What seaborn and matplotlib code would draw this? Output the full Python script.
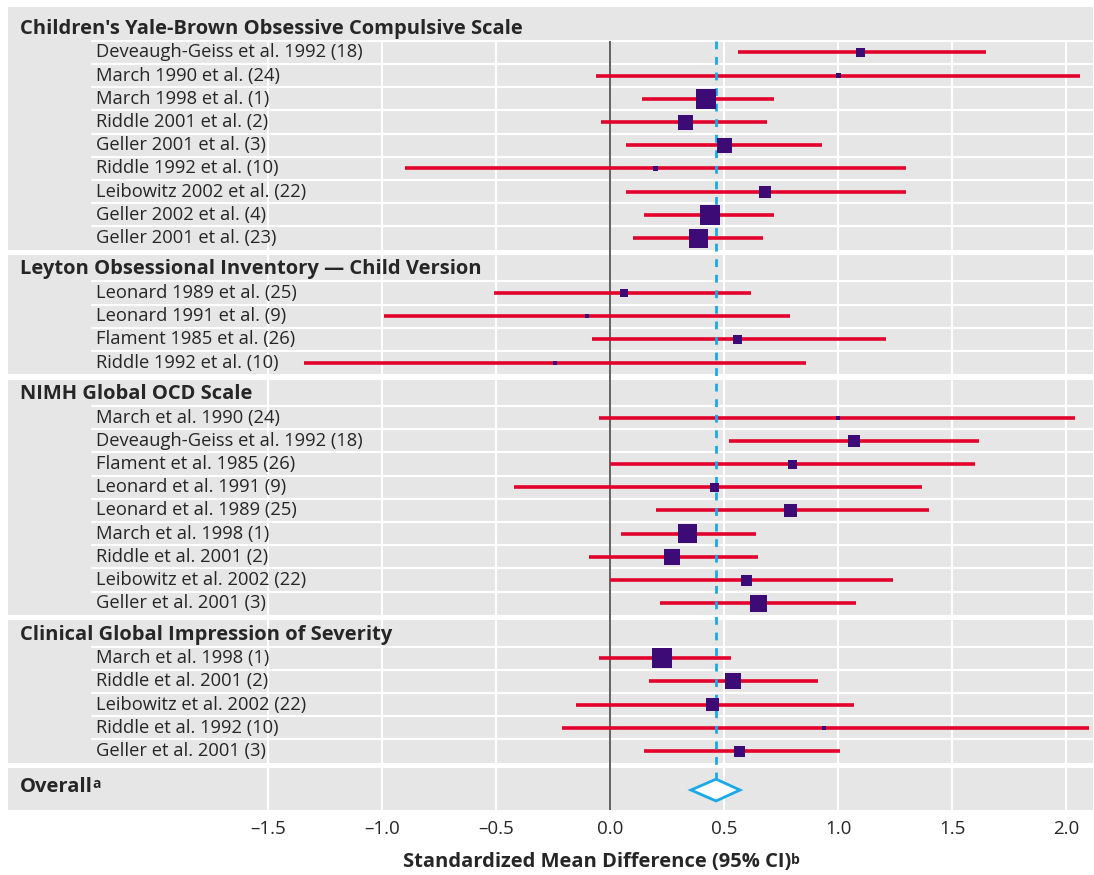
import pandas as pd
import seaborn as sns
import matplotlib.pyplot as plt
from matplotlib.transforms import blended_transform_factory

# --- data ---
group_names = [
    "Children's Yale-Brown Obsessive Compulsive Scale",
    "Leyton Obsessional Inventory \u2014 Child Version",
    "NIMH Global OCD Scale",
    "Clinical Global Impression of Severity",
]
group_counts = [9, 4, 9, 5]

studies = [
    "Deveaugh-Geiss et al. 1992 (18)", "March 1990 et al. (24)", "March 1998 et al. (1)",
    "Riddle 2001 et al. (2)", "Geller 2001 et al. (3)", "Riddle 1992 et al. (10)",
    "Leibowitz 2002 et al. (22)", "Geller 2002 et al. (4)", "Geller 2001 et al. (23)",
    "Leonard 1989 et al. (25)", "Leonard 1991 et al. (9)", "Flament 1985 et al. (26)",
    "Riddle 1992 et al. (10)",
    "March et al. 1990 (24)", "Deveaugh-Geiss et al. 1992 (18)", "Flament et al. 1985 (26)",
    "Leonard et al. 1991 (9)", "Leonard et al. 1989 (25)", "March et al. 1998 (1)",
    "Riddle et al. 2001 (2)", "Leibowitz et al. 2002 (22)", "Geller et al. 2001 (3)",
    "March et al. 1998 (1)", "Riddle et al. 2001 (2)", "Leibowitz et al. 2002 (22)",
    "Riddle et al. 1992 (10)", "Geller et al. 2001 (3)",
]
smd = [1.10, 1.00, 0.42, 0.33, 0.50, 0.20, 0.68, 0.44, 0.39,
       0.06, -0.10, 0.56, -0.24,
       1.00, 1.07, 0.80, 0.46, 0.79, 0.34, 0.27, 0.60, 0.65,
       0.23, 0.54, 0.45, 0.94, 0.57]
ci_low = [0.56, -0.06, 0.14, -0.04, 0.07, -0.90, 0.07, 0.15, 0.10,
          -0.51, -0.99, -0.08, -1.34,
          -0.05, 0.52, 0.00, -0.42, 0.20, 0.05, -0.09, 0.00, 0.22,
          -0.05, 0.17, -0.15, -0.21, 0.15]
ci_high = [1.65, 2.06, 0.72, 0.69, 0.93, 1.30, 1.30, 0.72, 0.67,
           0.62, 0.79, 1.21, 0.86,
           2.04, 1.62, 1.60, 1.37, 1.40, 0.64, 0.65, 1.24, 1.08,
           0.53, 0.91, 1.07, 2.10, 1.01]
weight = [9, 5, 20, 15, 15, 5, 12, 20, 19,
          8, 4, 9, 4,
          4, 12, 9, 9, 13, 19, 16, 11, 17,
          20, 16, 13, 4, 11]

overall_smd = 0.465
overall_low = 0.355
overall_high = 0.57

xticks = [-1.5, -1.0, -0.5, 0.0, 0.5, 1.0, 1.5, 2.0]
xtick_labels = ["\u20131.5", "\u20131.0", "\u20130.5", "0.0", "0.5", "1.0", "1.5", "2.0"]

# --- style ---
GREY = "#e6e6e6"
RED = "#e2022c"
PURPLE = "#3c0b75"
BLUE = "#1aa9e6"
ZERO = "#555555"

sns.set_theme(style="white")
plt.rcParams["font.family"] = ["Open Sans", "DejaVu Sans"]

# --- row layout (in row units, top = 0) ---
HEAD = 1.14
GAP = 0.233
TOP_PAD = 0.32
OVERALL_H = 1.81

rows_y, panels, header_y, separators = [], [], [], []
y = 0.0
for g, n in enumerate(group_counts):
    top = y
    if g == 0:
        y += TOP_PAD
    y += HEAD
    header_y.append(y - 0.52)
    for k in range(n):
        separators.append(y)
        rows_y.append(y + 0.5)
        y += 1.0
    panels.append((top, y))
    y += GAP
overall_top = y
ymax = y + OVERALL_H
first_row_top = separators[0]

df = pd.DataFrame({"study": studies, "smd": smd, "low": ci_low, "high": ci_high,
                   "y": rows_y, "weight": weight})
df["area"] = (df["weight"] * 0.72) ** 2

fig = plt.figure(figsize=(10.94, 8.75), dpi=100)
ax = fig.add_axes([8 / 1094, 1 - 810 / 875, 1085 / 1094, 803 / 875])
ax.set_facecolor("white")

for top, bot in panels + [(overall_top, ymax)]:
    ax.axhspan(top, bot, color=GREY, lw=0, zorder=0)
for s in separators:
    ax.axhline(s, xmin=0.0775, xmax=1, color="white", lw=1.5, zorder=1)
ax.vlines(xticks, first_row_top, ymax, color="white", lw=1.5, zorder=1)
ax.vlines(0, first_row_top, ymax, color=ZERO, lw=1.3, zorder=2)

diamond_h = 0.47
diamond_y = overall_top + 0.95
ax.vlines(overall_smd, first_row_top, diamond_y - diamond_h, color=BLUE, lw=2,
          linestyles=(0, (2.8, 2.8)), zorder=4)

ax.hlines(df["y"], df["low"], df["high"], color=RED, lw=2.6, zorder=3)
sns.scatterplot(data=df, x="smd", y="y", size="area",
                sizes=(df["area"].min(), df["area"].max()),
                size_norm=(df["area"].min(), df["area"].max()),
                marker="s", color=PURPLE, linewidth=0, legend=False, ax=ax, zorder=5)

ax.fill([overall_low, overall_smd, overall_high, overall_smd],
        [diamond_y, diamond_y - diamond_h, diamond_y, diamond_y + diamond_h],
        facecolor="white", edgecolor=BLUE, lw=2, zorder=5)

trans = blended_transform_factory(ax.transAxes, ax.transData)
for name, yy in zip(df["study"], df["y"]):
    ax.text(0.081, yy, name, transform=trans, va="center", ha="left", fontsize=13.2)
for name, yy in zip(group_names, header_y):
    ax.text(0.011, yy, name, transform=trans, va="center", ha="left",
            fontsize=14.5, fontweight="bold")
t = ax.text(0.011, overall_top + 0.8, "Overall", transform=trans, va="center",
            ha="left", fontsize=14.5, fontweight="bold")
ax.annotate("a", xy=(1, 0.97), xycoords=t, xytext=(-0.5, 0), textcoords="offset points",
            va="top", ha="left", fontsize=10, fontweight="bold")

ax.set_xlim(-2.64, 2.118)
ax.set_ylim(ymax, 0)
ax.set_xticks(xticks, xtick_labels)
ax.set_yticks([])
ax.set_xlabel("")
ax.set_ylabel("")
ax.tick_params(axis="x", length=0, pad=7, labelsize=13.5)
for sp in ax.spines.values():
    sp.set_visible(False)

xl = fig.text(597 / 1094, 1 - 862 / 875, "Standardized Mean Difference (95% CI)",
              ha="center", va="center", fontsize=14.5, fontweight="bold")
ax.annotate("b", xy=(1, 0.97), xycoords=xl, xytext=(-0.5, 0), textcoords="offset points",
            va="top", ha="left", fontsize=10, fontweight="bold")

fig.savefig("out.png", dpi=100)
